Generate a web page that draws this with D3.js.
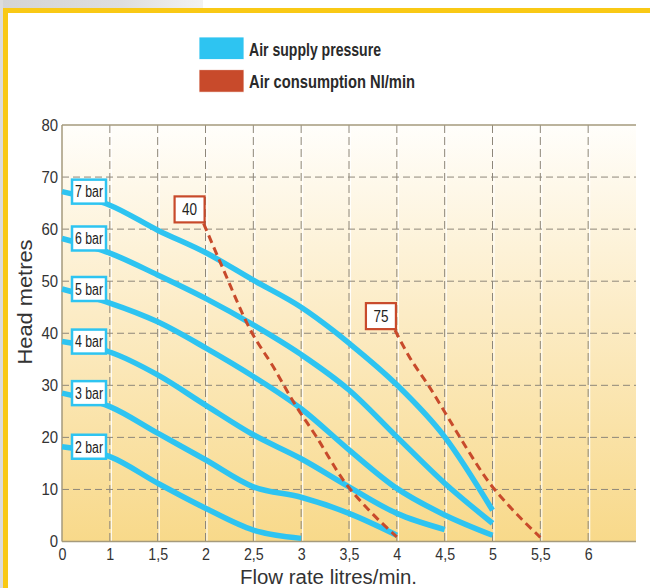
<!DOCTYPE html>
<html><head><meta charset="utf-8">
<script src="https://cdn.jsdelivr.net/npm/d3@7"></script>
<style>body{margin:0;background:#fff}svg{display:block}</style>
</head><body><svg id="c" width="650" height="588"></svg>
<script>
// ---- data ----
const xTicks = [0, 1, 1.5, 2, 2.5, 3, 3.5, 4, 4.5, 5, 5.5, 6];
const xTickLabels = ["0", "1", "1,5", "2", "2,5", "3", "3,5", "4", "4,5", "5", "5,5", "6"];
const yTicks = [0, 10, 20, 30, 40, 50, 60, 70, 80];

const pressureLabels = ["2 bar", "3 bar", "4 bar", "5 bar", "6 bar", "7 bar"];
const bar2Flow = [0, 1, 1.5, 2, 2.5, 3];
const bar2Head = [18.2, 16.3, 11.2, 6.4, 2.2, 0.6];
const bar3Flow = [0, 1, 1.5, 2, 2.5, 3, 3.5, 4];
const bar3Head = [28.5, 25.9, 20.8, 15.7, 10.5, 8.5, 5.4, 1.2];
const bar4Flow = [0, 1, 1.5, 2, 2.5, 3, 3.5, 4, 4.5];
const bar4Head = [38.4, 36.4, 32.0, 26.2, 20.5, 15.9, 10.5, 5.4, 2.3];
const bar5Flow = [0, 1, 1.5, 2, 2.5, 3, 3.5, 4, 4.5, 5];
const bar5Head = [48.5, 45.8, 42.2, 37.2, 31.7, 25.5, 17.6, 10.2, 5.1, 1.2];
const bar6Flow = [0, 1, 1.5, 2, 2.5, 3, 3.5, 4, 4.5, 5];
const bar6Head = [58.2, 55.4, 51.2, 46.7, 41.6, 35.9, 29.1, 20.1, 11.2, 3.5];
const bar7Flow = [0, 1, 1.5, 2, 2.5, 3, 3.33, 3.5, 4, 4.5, 5];
const bar7Head = [67.2, 64.6, 59.8, 55.5, 50.2, 45.0, 40.6, 38.1, 30.1, 20.1, 6.0];

const airLabels = ["40", "75"];
const air40Flow = [1.98, 2.19, 2.47, 2.71, 2.93, 3.16, 3.44, 3.71, 4.0];
const air40Head = [61.1, 52.1, 40.6, 33.5, 26.5, 20.1, 11.8, 6.0, 0.9];
const air75Flow = [3.98, 4.13, 4.34, 4.51, 4.72, 4.97, 5.18, 5.5];
const air75Head = [40.6, 35.5, 29.7, 24.6, 18.2, 11.2, 6.7, 0.8];

const legendLabels = ["Air supply pressure", "Air consumption Nl/min"];
const xTitle = "Flow rate litres/min.";
const yTitle = "Head metres";

// ---- build ----
const zip = (a, b) => a.map((v, i) => [v, b[i]]);
const pressureSeries = [
  zip(bar2Flow, bar2Head), zip(bar3Flow, bar3Head), zip(bar4Flow, bar4Head),
  zip(bar5Flow, bar5Head), zip(bar6Flow, bar6Head), zip(bar7Flow, bar7Head)
];
const airSeries = [zip(air40Flow, air40Head), zip(air75Flow, air75Head)];

const BLUE = "#2ec4f1", RED = "#c84a2b";
const FONT = "'Liberation Sans',Arial,sans-serif";

const svg = d3.select("#c");
const L = 62, R = 636, T = 125, B = 541.5;
const x = d3.scaleLinear().domain([0, 1, 6.5]).range([L, L + (R - L) / 12, R]);
const y = d3.scaleLinear().domain([0, 80]).range([B, T]);

const defs = svg.append("defs");
const bg = defs.append("linearGradient").attr("id", "bg").attr("x1", 0).attr("x2", 0).attr("y1", 0).attr("y2", 1);
bg.append("stop").attr("offset", "0%").attr("stop-color", "#fffefb");
bg.append("stop").attr("offset", "45%").attr("stop-color", "#fcecc6");
bg.append("stop").attr("offset", "100%").attr("stop-color", "#f8d98a");
const gr = defs.append("linearGradient").attr("id", "gr").attr("x1", 0).attr("x2", 1).attr("y1", 0).attr("y2", 0);
gr.append("stop").attr("offset", "0%").attr("stop-color", "#d4d4d4");
gr.append("stop").attr("offset", "60%").attr("stop-color", "#dedede");
gr.append("stop").attr("offset", "100%").attr("stop-color", "#f2f2f2");

// decorative frame
svg.append("rect").attr("x", 0).attr("y", 0).attr("width", 203).attr("height", 9).attr("fill", "url(#gr)");
svg.append("rect").attr("x", 0).attr("y", 0).attr("width", 3).attr("height", 588).attr("fill", "#dcdcdc");
svg.append("rect").attr("x", 3).attr("y", 8).attr("width", 647).attr("height", 5).attr("fill", "#f9c915");
svg.append("rect").attr("x", 3).attr("y", 8).attr("width", 5).attr("height", 580).attr("fill", "#f9c915");

// plot background
svg.append("rect").attr("x", L).attr("y", T).attr("width", R - L).attr("height", B - T).attr("fill", "url(#bg)");

// grid
const gridX = xTicks.filter(d => d > 0);
svg.append("g").selectAll("line").data(gridX).join("line")
  .attr("x1", d => x(d) + 1.5).attr("x2", d => x(d) + 1.5).attr("y1", T).attr("y2", B)
  .attr("stroke", "#ffffff").attr("stroke-width", 1.2).attr("opacity", 0.9);
svg.append("g").selectAll("line").data(gridX).join("line")
  .attr("x1", d => x(d)).attr("x2", d => x(d)).attr("y1", T).attr("y2", B)
  .attr("stroke", "#8e877a").attr("stroke-width", 1).attr("stroke-dasharray", "8,4");
svg.append("g").selectAll("line").data(yTicks.filter(d => d > 0 && d < 80)).join("line")
  .attr("x1", L).attr("x2", R).attr("y1", d => y(d)).attr("y2", d => y(d))
  .attr("stroke", "#8e877a").attr("stroke-width", 1).attr("stroke-dasharray", "7,4");

// frame lines
svg.append("line").attr("x1", L).attr("x2", R).attr("y1", T).attr("y2", T).attr("stroke", "#a59a7c").attr("stroke-width", 1.5);
svg.append("line").attr("x1", L).attr("x2", R).attr("y1", B).attr("y2", B).attr("stroke", "#a59a7c").attr("stroke-width", 1.5);
svg.append("line").attr("x1", L).attr("x2", L).attr("y1", T).attr("y2", B).attr("stroke", "#a59a7c").attr("stroke-width", 1.5);

// axes
const ax = svg.append("g").attr("transform", `translate(0,${B})`)
  .call(d3.axisBottom(x).tickValues(xTicks).tickFormat((d, i) => xTickLabels[i]).tickSize(0).tickPadding(6));
ax.select(".domain").remove();
ax.selectAll("text").attr("font-family", FONT).attr("font-size", 17).attr("fill", "#333")
  .attr("transform", "scale(0.84,1)");
const ay = svg.append("g").attr("transform", `translate(${L},0)`)
  .call(d3.axisLeft(y).tickValues(yTicks).tickSize(0).tickPadding(0));
ay.select(".domain").remove();
ay.selectAll("text").attr("font-family", FONT).attr("font-size", 17).attr("fill", "#333")
  .attr("x", -4.5).attr("transform", "scale(0.88,1)");

// curves
const line = d3.line().x(d => x(d[0])).y(d => y(d[1])).curve(d3.curveMonotoneX);
svg.append("g").selectAll("path").data(pressureSeries).join("path")
  .attr("d", line).attr("fill", "none").attr("stroke", BLUE).attr("stroke-width", 5.5);
svg.append("g").selectAll("path").data(airSeries).join("path")
  .attr("d", line).attr("fill", "none").attr("stroke", RED).attr("stroke-width", 3).attr("stroke-dasharray", "8,5");

// pressure label boxes
const pl = svg.append("g").selectAll("g").data(pressureSeries).join("g")
  .attr("transform", d => `translate(${x(0) + 27},${y(d[0][1])})`);
pl.append("rect").attr("x", -17).attr("y", -12).attr("width", 34).attr("height", 24)
  .attr("fill", "#fff").attr("stroke", BLUE).attr("stroke-width", 2.5);
pl.append("text").attr("text-anchor", "middle").attr("dy", "0.36em")
  .attr("font-family", FONT).attr("font-size", 16).attr("fill", "#222")
  .attr("textLength", 28).attr("lengthAdjust", "spacingAndGlyphs")
  .text((d, i) => pressureLabels[i]);

// air label boxes
const al = svg.append("g").selectAll("g").data(airSeries).join("g")
  .attr("transform", d => `translate(${x(d[0][0]) - 14},${y(d[0][1]) - 14})`);
al.append("rect").attr("x", -15).attr("y", -13).attr("width", 30).attr("height", 26)
  .attr("fill", "#fff").attr("stroke", RED).attr("stroke-width", 2.2);
al.append("text").attr("text-anchor", "middle").attr("dy", "0.36em")
  .attr("font-family", FONT).attr("font-size", 16).attr("fill", "#222")
  .attr("textLength", 15).attr("lengthAdjust", "spacingAndGlyphs")
  .text((d, i) => airLabels[i]);

// legend
const lg = svg.append("g").selectAll("g").data(legendLabels).join("g")
  .attr("transform", (d, i) => `translate(199,${37 + i * 32.7})`);
lg.append("rect").attr("width", 45).attr("height", 22.5)
  .attr("fill", (d, i) => i === 0 ? BLUE : RED).attr("stroke", "#fff").attr("stroke-width", 0.8);
lg.append("text").attr("x", 50).attr("y", 18.8)
  .attr("font-family", FONT).attr("font-weight", "bold").attr("font-size", 18.5).attr("fill", "#2a2a2a")
  .attr("textLength", (d, i) => i === 0 ? 132 : 166).attr("lengthAdjust", "spacingAndGlyphs")
  .text(d => d);

// axis titles
svg.append("text").attr("x", 328.5).attr("y", 584).attr("text-anchor", "middle")
  .attr("font-family", FONT).attr("font-size", 20).attr("fill", "#333")
  .attr("textLength", 177).attr("lengthAdjust", "spacingAndGlyphs").text(xTitle);
svg.append("text").attr("transform", "translate(32,302) rotate(-90)").attr("text-anchor", "middle")
  .attr("font-family", FONT).attr("font-size", 20).attr("fill", "#333")
  .attr("textLength", 125).attr("lengthAdjust", "spacingAndGlyphs").text(yTitle);
</script></body></html>
